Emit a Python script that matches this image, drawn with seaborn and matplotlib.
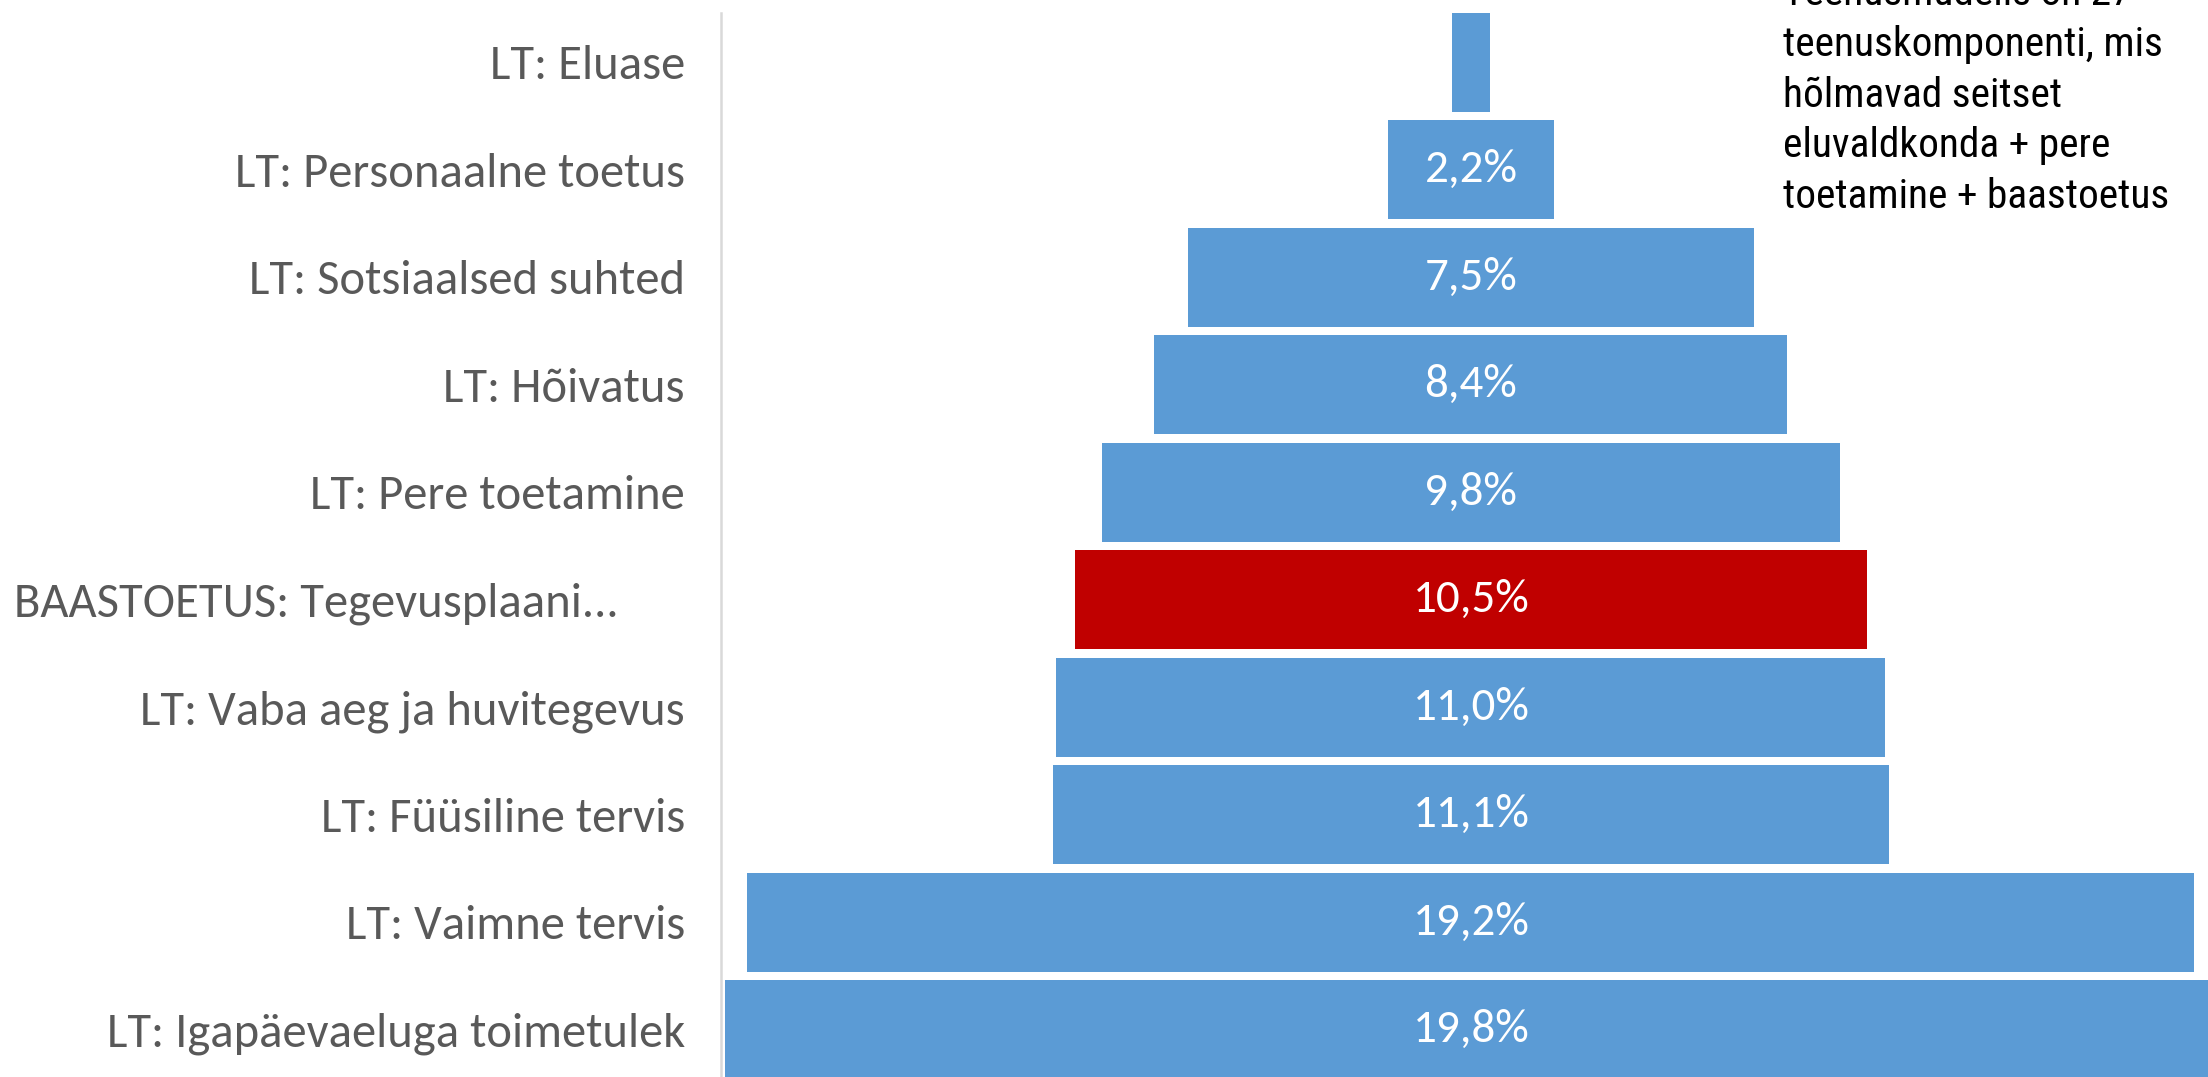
import numpy as np
import pandas as pd
import matplotlib
matplotlib.use("Agg")
import matplotlib.pyplot as plt
from matplotlib import font_manager as fm
from matplotlib.font_manager import FontProperties
from matplotlib.textpath import TextPath
from matplotlib.transforms import ScaledTranslation
import seaborn as sns

# ---------------- data ----------------
categories = [
    "LT: Eluase",
    "LT: Personaalne toetus",
    "LT: Sotsiaalsed suhted",
    "LT: Hõivatus",
    "LT: Pere toetamine",
    "BAASTOETUS: Tegevusplaani...",
    "LT: Vaba aeg ja huvitegevus",
    "LT: Füüsiline tervis",
    "LT: Vaimne tervis",
    "LT: Igapäevaeluga toimetulek",
]
values = [0.5, 2.2, 7.5, 8.4, 9.8, 10.5, 11.0, 11.1, 19.2, 19.8]
value_labels = ["", "2,2%", "7,5%", "8,4%", "9,8%", "10,5%", "11,0%", "11,1%", "19,2%", "19,8%"]
highlight = "BAASTOETUS: Tegevusplaani..."
note_lines = [
    "Teenusmudelis on 27",
    "teenuskomponenti, mis",
    "hõlmavad seitset",
    "eluvaldkonda + pere",
    "toetamine + baastoetus",
]

# ---------------- fonts ----------------
avail = {f.name for f in fm.fontManager.ttflist}


def pick(names):
    for n in names:
        if n in avail:
            return n
    return "DejaVu Sans"


label_font = pick(["Carlito", "Calibri", "Lato", "Open Sans"])
note_font = pick(["Roboto Condensed", "Liberation Sans Narrow", "Roboto"])

sns.set_theme(style="white")
plt.rcParams["font.family"] = [label_font, "DejaVu Sans"]

W, H, DPI = 2208, 1077, 100
fig = plt.figure(figsize=(W / DPI, H / DPI), dpi=DPI)
fig.patch.set_facecolor("white")
AX_LEFT, AX_TOP = 721, 13
ax = fig.add_axes([AX_LEFT / W, 0, 1 - AX_LEFT / W, (H - AX_TOP) / H])
ax.set_facecolor("white")

fig.canvas.draw()
rend = fig.canvas.get_renderer()


def fit_width(text, target_px, family, base=20):
    t = fig.text(0, 0, text, fontsize=base, family=family)
    w = t.get_window_extent(rend).width
    t.remove()
    return base * target_px / w


def fit_height(glyph, target_px, family):
    ext = TextPath((0, 0), glyph, size=100, prop=FontProperties(family=family)).get_extents()
    return 100 * target_px / (ext.y1 * DPI / 72)


label_size = 0.5 * (fit_width("LT: Igapäevaeluga toimetulek", 600, [label_font, "DejaVu Sans"])
                    + fit_width("LT: Vaba aeg ja huvitegevus", 525, [label_font, "DejaVu Sans"]))
value_size = fit_width("19,8%", 117, [label_font, "DejaVu Sans"])
note_size = 0.5 * (fit_height("k", 30.5, note_font)
                   + fit_width("toetamine + baastoetus", 393, [note_font, "DejaVu Sans"]))

# ---------------- funnel bars (two half bars mirrored around 0) ----------------
df = pd.DataFrame({"cat": categories, "half": np.array(values) / 2})
palette = {c: ("#C00000" if c == highlight else "#5B9BD5") for c in categories}
for sign in (1, -1):
    sns.barplot(
        data=df.assign(h=sign * df["half"]),
        x="h", y="cat", hue="cat", palette=palette,
        order=categories, hue_order=categories,
        width=0.92, orient="h", legend=False, errorbar=None,
        saturation=1, linewidth=0, ax=ax,
    )

for i, lbl in enumerate(value_labels):
    if lbl:
        ax.text(0, i, lbl, ha="center", va="center", color="white",
                fontsize=value_size, family=[label_font, "DejaVu Sans"])

ax.set_xlim(-9.95, 9.78)
ax.set_ylim(9.44, -0.46)
ax.set_xticks([])
ax.set_xlabel("")
ax.set_ylabel("")
for s in ("top", "right", "bottom"):
    ax.spines[s].set_visible(False)
ax.spines["left"].set_color("#D9D9D9")
ax.spines["left"].set_linewidth(1.8)
ax.tick_params(axis="y", length=0, pad=26, labelsize=label_size, labelcolor="#595959")

# long truncated label starts at the left edge of the figure
for tl in ax.get_yticklabels():
    if tl.get_text() == highlight:
        tl.set_horizontalalignment("left")
        shift = (AX_LEFT - 36 - 14) / DPI
        tl.set_transform(tl.get_transform() + ScaledTranslation(-shift, 0, fig.dpi_scale_trans))

# ---------------- note text (top right) ----------------
baselines = [5, 55.7, 106.5, 157, 207.5]
for line, b in zip(note_lines, baselines):
    fig.text(1783 / W, 1 - b / H, line, ha="left", va="baseline",
             fontsize=note_size, color="black", family=[note_font, "DejaVu Sans"])

fig.savefig("out.png", dpi=DPI, facecolor="white")
